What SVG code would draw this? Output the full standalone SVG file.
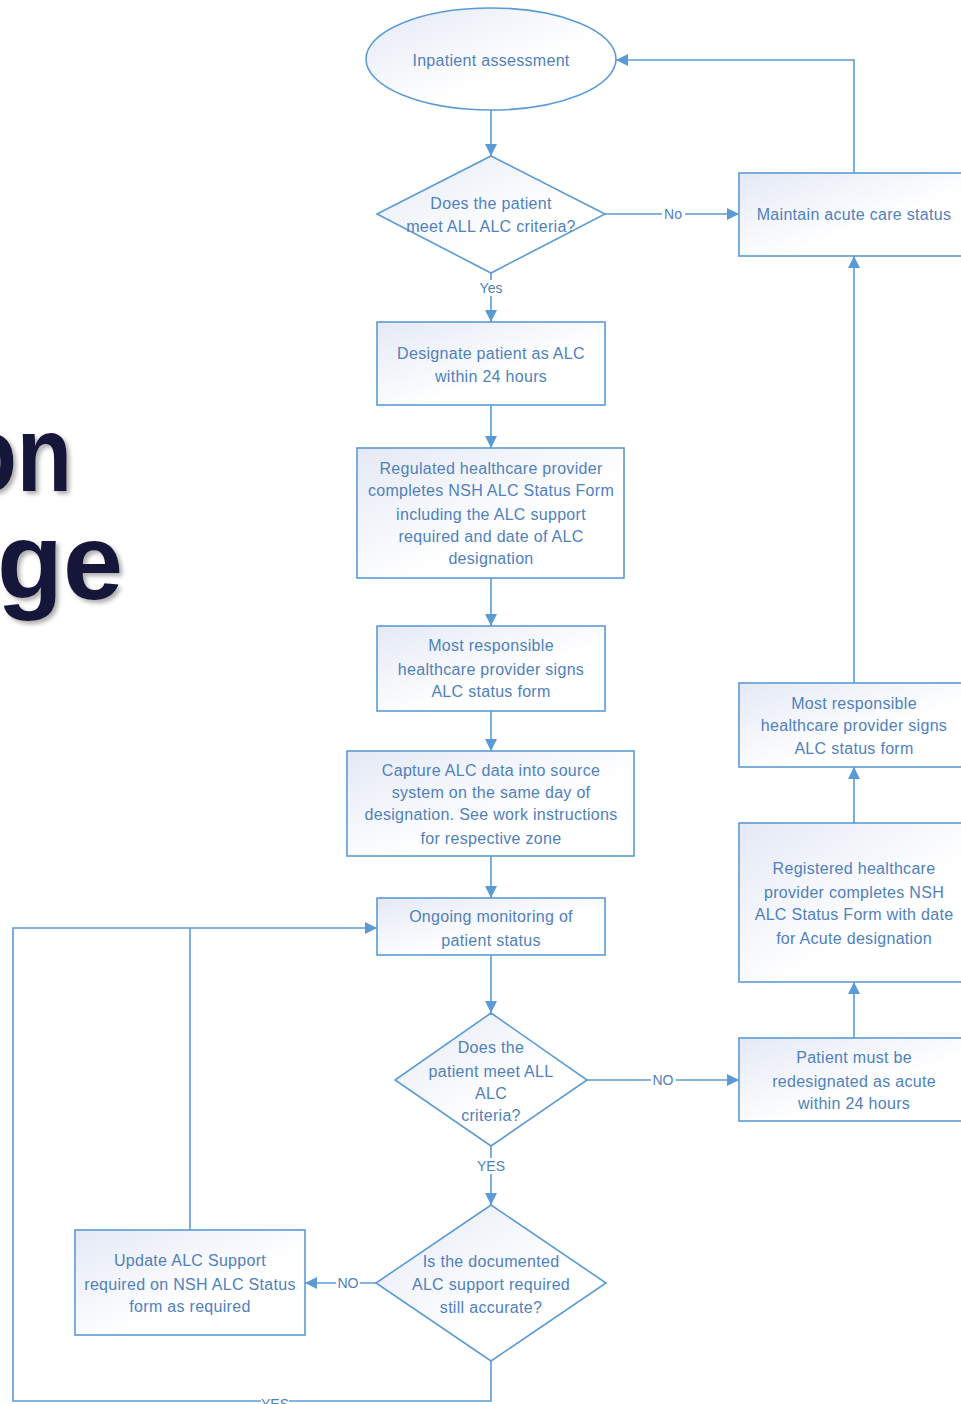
<svg xmlns="http://www.w3.org/2000/svg" width="961" height="1404" viewBox="0 0 961 1404">
<defs>
<linearGradient id="fillg" x1="0" y1="0" x2="1" y2="1">
<stop offset="0" stop-color="#e4e9f5"/>
<stop offset="0.6" stop-color="#ffffff"/>
<stop offset="1" stop-color="#ffffff"/>
</linearGradient>
<marker id="arr" viewBox="0 0 12 12" refX="12" refY="6" markerWidth="12" markerHeight="12" markerUnits="userSpaceOnUse" orient="auto">
<path d="M0,0 L12,6 L0,12 z" fill="#5b9bd5"/>
</marker>
<filter id="shadow" x="-20%" y="-20%" width="140%" height="140%">
<feDropShadow dx="3" dy="3" stdDeviation="2" flood-color="#777" flood-opacity="0.6"/>
</filter>
</defs>
<style>
.shape{fill:url(#fillg);stroke:#5b9bd5;stroke-width:1.6}
.t{font-family:"Liberation Sans",Arial,sans-serif;font-size:16px;fill:#4f81bd;text-anchor:middle;dominant-baseline:central;letter-spacing:0.3px}
.lbl{font-family:"Liberation Sans",Arial,sans-serif;font-size:14px;fill:#4f81bd;text-anchor:middle;dominant-baseline:central}
.c{fill:none;stroke:#5b9bd5;stroke-width:1.6}
.big{font-family:"Liberation Sans",Arial,sans-serif;font-weight:bold;font-size:108px;fill:#16163a;text-anchor:end}
</style>
<rect width="961" height="1404" fill="#ffffff"/>
<g id="title" filter="url(#shadow)">
<text class="big" x="86" y="491" transform="scale(0.84,1)">on</text>
<text class="big" x="123" y="599">ge</text>
</g>
<g id="connectors">
<path class="c" d="M491,110 V156" marker-end="url(#arr)"/>
<path class="c" d="M491,273 V322" marker-end="url(#arr)"/>
<path class="c" d="M605,214 H739" marker-end="url(#arr)"/>
<path class="c" d="M854,173 V60 H616" marker-end="url(#arr)"/>
<path class="c" d="M491,405 V448" marker-end="url(#arr)"/>
<path class="c" d="M491,578 V626" marker-end="url(#arr)"/>
<path class="c" d="M491,711 V751" marker-end="url(#arr)"/>
<path class="c" d="M491,856 V898" marker-end="url(#arr)"/>
<path class="c" d="M491,955 V1013" marker-end="url(#arr)"/>
<path class="c" d="M587,1080 H739" marker-end="url(#arr)"/>
<path class="c" d="M491,1146 V1205" marker-end="url(#arr)"/>
<path class="c" d="M376,1283 H305" marker-end="url(#arr)"/>
<path class="c" d="M491,1361 V1401 H13 V928 H377" marker-end="url(#arr)"/>
<path class="c" d="M190,1230 V928"/>
<path class="c" d="M854,1038 V982" marker-end="url(#arr)"/>
<path class="c" d="M854,823 V767" marker-end="url(#arr)"/>
<path class="c" d="M854,683 V256" marker-end="url(#arr)"/>
<rect x="478" y="280" width="26" height="16" fill="#fff"/>
<text class="lbl" x="491" y="288">Yes</text>
<rect x="662" y="207" width="23" height="15" fill="#fff"/>
<text class="lbl" x="673" y="214">No</text>
<rect x="651" y="1073" width="25" height="15" fill="#fff"/>
<text class="lbl" x="663" y="1080">NO</text>
<rect x="477" y="1158" width="28" height="16" fill="#fff"/>
<text class="lbl" x="491" y="1166">YES</text>
<rect x="336" y="1276" width="24" height="15" fill="#fff"/>
<text class="lbl" x="348" y="1283">NO</text>
<rect x="261" y="1393" width="28" height="16" fill="#fff"/>
<text class="lbl" x="275" y="1404">YES</text>
</g>
<g id="n-inpatient">
<ellipse class="shape" cx="491" cy="59" rx="125" ry="51"/>
<text class="t" x="491" y="60">Inpatient assessment</text>
</g>
<g id="d-criteria1">
<polygon class="shape" points="491,156 605,214 491,273 377,214"/>
<text class="t" x="491" y="203">Does the patient</text>
<text class="t" x="491" y="226">meet ALL ALC criteria?</text>
</g>
<g id="n-maintain">
<rect class="shape" x="739" y="173" width="231" height="83"/>
<text class="t" x="854" y="214">Maintain acute care status</text>
</g>
<g id="n-designate">
<rect class="shape" x="377" y="322" width="228" height="83"/>
<text class="t" x="491" y="353">Designate patient as ALC</text>
<text class="t" x="491" y="376">within 24 hours</text>
</g>
<g id="n-regulated">
<rect class="shape" x="357" y="448" width="267" height="130"/>
<text class="t" x="491" y="468">Regulated healthcare provider</text>
<text class="t" x="491" y="490">completes NSH ALC Status Form</text>
<text class="t" x="491" y="514">including the ALC support</text>
<text class="t" x="491" y="536">required and date of ALC</text>
<text class="t" x="491" y="558">designation</text>
</g>
<g id="n-mrp1">
<rect class="shape" x="377" y="626" width="228" height="85"/>
<text class="t" x="491" y="645">Most responsible</text>
<text class="t" x="491" y="669">healthcare provider signs</text>
<text class="t" x="491" y="691">ALC status form</text>
</g>
<g id="n-capture">
<rect class="shape" x="347" y="751" width="287" height="105"/>
<text class="t" x="491" y="770">Capture ALC data into source</text>
<text class="t" x="491" y="792">system on the same day of</text>
<text class="t" x="491" y="814">designation. See work instructions</text>
<text class="t" x="491" y="838">for respective zone</text>
</g>
<g id="n-ongoing">
<rect class="shape" x="377" y="898" width="228" height="57"/>
<text class="t" x="491" y="916">Ongoing monitoring of</text>
<text class="t" x="491" y="940">patient status</text>
</g>
<g id="d-criteria2">
<polygon class="shape" points="491,1013 587,1080 491,1146 395,1080"/>
<text class="t" x="491" y="1047">Does the</text>
<text class="t" x="491" y="1071">patient meet ALL</text>
<text class="t" x="491" y="1093">ALC</text>
<text class="t" x="491" y="1115">criteria?</text>
</g>
<g id="d-accurate">
<polygon class="shape" points="491,1205 606,1283 491,1361 376,1283"/>
<text class="t" x="491" y="1261">Is the documented</text>
<text class="t" x="491" y="1284">ALC support required</text>
<text class="t" x="491" y="1307">still accurate?</text>
</g>
<g id="n-update">
<rect class="shape" x="75" y="1230" width="230" height="105"/>
<text class="t" x="190" y="1260">Update ALC Support</text>
<text class="t" x="190" y="1284">required on NSH ALC Status</text>
<text class="t" x="190" y="1306">form as required</text>
</g>
<g id="n-redesignate">
<rect class="shape" x="739" y="1038" width="231" height="83"/>
<text class="t" x="854" y="1057">Patient must be</text>
<text class="t" x="854" y="1081">redesignated as acute</text>
<text class="t" x="854" y="1103">within 24 hours</text>
</g>
<g id="n-registered">
<rect class="shape" x="739" y="823" width="231" height="159"/>
<text class="t" x="854" y="868">Registered healthcare</text>
<text class="t" x="854" y="892">provider completes NSH</text>
<text class="t" x="854" y="914">ALC Status Form with date</text>
<text class="t" x="854" y="938">for Acute designation</text>
</g>
<g id="n-mrp2">
<rect class="shape" x="739" y="683" width="231" height="84"/>
<text class="t" x="854" y="703">Most responsible</text>
<text class="t" x="854" y="725">healthcare provider signs</text>
<text class="t" x="854" y="748">ALC status form</text>
</g>
</svg>
